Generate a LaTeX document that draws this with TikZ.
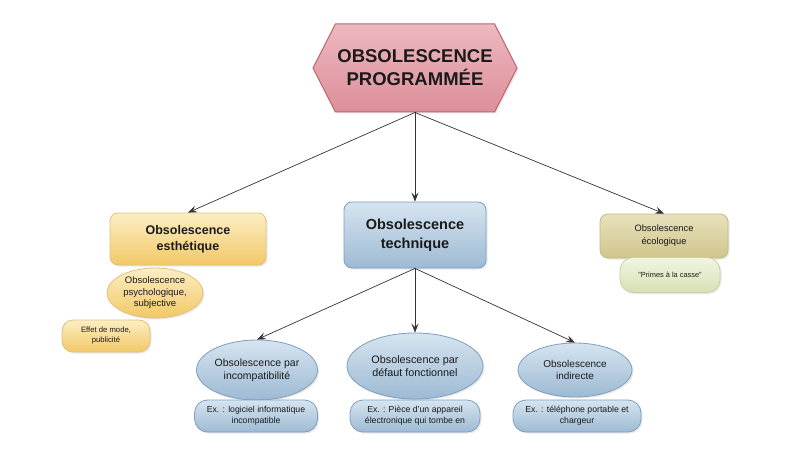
\documentclass[tikz,border=0pt]{standalone}
\usepackage{fontspec}
\setmainfont{Liberation Sans}
\usetikzlibrary{arrows.meta,shapes.geometric,shapes.symbols,shadows}
\definecolor{pinkTop}{HTML}{EDB8BF}
\definecolor{pinkBot}{HTML}{DC8F99}
\definecolor{pinkBorder}{HTML}{C0646E}
\definecolor{yelTop}{HTML}{FCEEC4}
\definecolor{yelBot}{HTML}{F2C866}
\definecolor{yelBorder}{HTML}{E3C27A}
\definecolor{bluTop}{HTML}{D6E4F0}
\definecolor{bluBot}{HTML}{9DBAD3}
\definecolor{bluBorder}{HTML}{7F9FBE}
\definecolor{oliTop}{HTML}{E8E1BC}
\definecolor{oliBot}{HTML}{CFC58C}
\definecolor{oliBorder}{HTML}{C4B982}
\definecolor{grnTop}{HTML}{F1F5E2}
\definecolor{grnBot}{HTML}{D6E1B4}
\definecolor{grnBorder}{HTML}{C7D2A4}
\definecolor{txt}{HTML}{1A1A1A}
\definecolor{arrowcol}{HTML}{333333}
\begin{document}
\begin{tikzpicture}[x=1pt,y=-1pt,
  base/.style={draw, line width=0.8pt, align=center, inner sep=0pt, text=txt,
    drop shadow={shadow xshift=1.5pt, shadow yshift=-1.5pt, opacity=0.18}},
  rbox/.style={base, rectangle, rounded corners=8pt},
  pill/.style={base, rectangle, rounded corners=13pt},
  oval/.style={base, ellipse},
  yel/.style={top color=yelTop, bottom color=yelBot, draw=yelBorder},
  blu/.style={top color=bluTop, bottom color=bluBot, draw=bluBorder},
  oli/.style={top color=oliTop, bottom color=oliBot, draw=oliBorder},
  grn/.style={top color=grnTop, bottom color=grnBot, draw=grnBorder},
  conn/.style={draw=arrowcol, line width=0.7pt, -{Stealth[length=9pt,width=7pt,inset=3.5pt]}}
]
\useasboundingbox (0,0) rectangle (800,473);
\fill[white] (0,0) rectangle (800,473);

% top hexagon
\node[base, signal, signal to=west and east, signal pointer angle=126,
  minimum width=204pt, minimum height=88pt,
  top color=pinkTop, bottom color=pinkBot, draw=pinkBorder, line width=1pt,
  font={\fontsize{18.5}{23}\selectfont\bfseries}]
  (top) at (415,68) {OBSOLESCENCE\\PROGRAMMÉE};

% level 1
\node[rbox, yel, minimum width=156pt, minimum height=52pt,
  font={\fontsize{12.5}{16}\selectfont\bfseries}] (est) at (188,239)
  {Obsolescence\\esthétique};
\node[rbox, blu, minimum width=142pt, minimum height=66pt,
  font={\fontsize{14.5}{19}\selectfont\bfseries}] (tech) at (415,235)
  {Obsolescence\\technique};
\node[rbox, oli, minimum width=128pt, minimum height=44pt,
  font={\fontsize{9.3}{13}\selectfont}] (eco) at (664,236)
  {Obsolescence\\écologique};

% left branch
\node[oval, yel, minimum width=96pt, minimum height=50pt,
  font={\fontsize{9.5}{11.5}\selectfont}] (psy) at (155,293)
  {Obsolescence\\psychologique,\\subjective};
\node[pill, yel, rounded corners=11pt, minimum width=88pt, minimum height=32pt,
  font={\fontsize{7.7}{10}\selectfont}] (effet) at (106,336)
  {Effet de mode,\\publicité};

% right branch
\node[pill, grn, minimum width=100pt, minimum height=35pt,
  font={\fontsize{7.4}{9}\selectfont}] (primes) at (670,275)
  {"Primes à la casse"};

% technique branches
\node[oval, blu, minimum width=121pt, minimum height=60pt,
  font={\fontsize{10.5}{13}\selectfont}] (inc) at (257,370)
  {Obsolescence par\\incompatibilité};
\node[pill, blu, minimum width=123pt, minimum height=32pt,
  font={\fontsize{8.7}{11}\selectfont}] (incex) at (256,416)
  {Ex. : logiciel informatique\\incompatible};

\node[oval, blu, minimum width=136pt, minimum height=66pt,
  font={\fontsize{10.8}{13.5}\selectfont}] (def) at (415,366)
  {Obsolescence par\\défaut fonctionnel};
\node[pill, blu, minimum width=130pt, minimum height=32pt,
  font={\fontsize{8.7}{11}\selectfont}] (defex) at (415,416)
  {Ex. : Pièce d'un appareil\\électronique qui tombe en};

\node[oval, blu, minimum width=114pt, minimum height=54pt,
  font={\fontsize{10}{12.5}\selectfont}] (ind) at (575,370)
  {Obsolescence\\indirecte};
\node[pill, blu, minimum width=128pt, minimum height=32pt,
  font={\fontsize{8.7}{11}\selectfont}] (index) at (577,416)
  {Ex. : téléphone portable et\\chargeur};

% connectors
\draw[conn] (top.south) -- (est.north);
\draw[conn] (top.south) -- (tech.north);
\draw[conn] (top.south) -- (eco.north);
\draw[conn] (tech.south) -- (inc.north);
\draw[conn] (tech.south) -- (def.north);
\draw[conn] (tech.south) -- (ind.north);
\end{tikzpicture}
\end{document}
